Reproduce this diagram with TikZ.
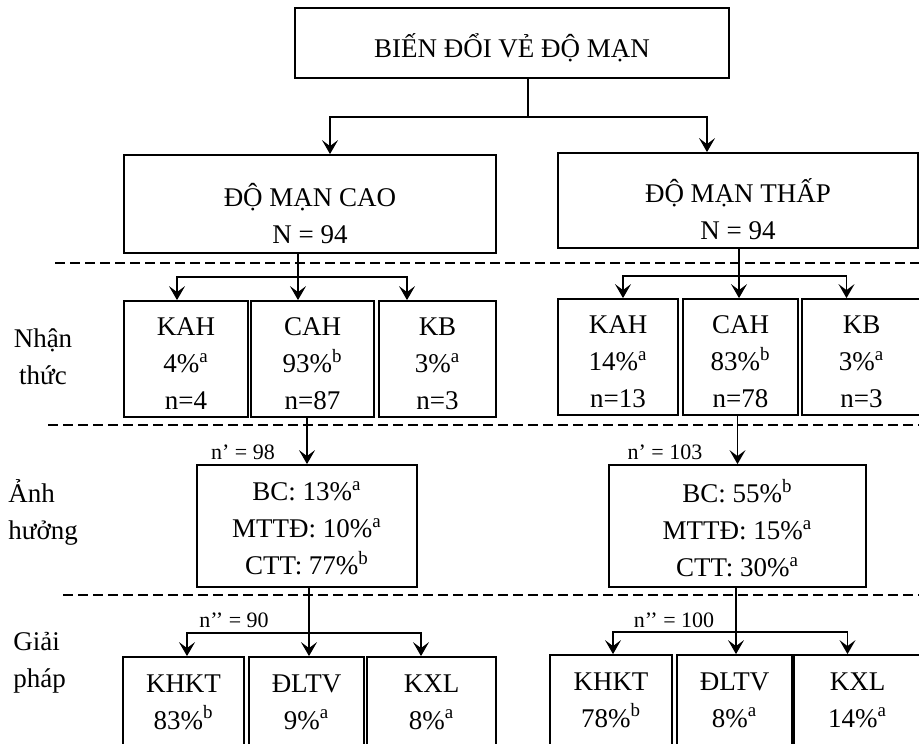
\documentclass[tikz,border=0pt]{standalone}
\usepackage{fontspec}
\setmainfont{Liberation Serif}
\usetikzlibrary{arrows, arrows.meta, fit, positioning}

\begin{document}
\begin{tikzpicture}[x=0.5pt, y=-0.5pt,
  box/.style={draw, line width=0.9pt, inner sep=0pt},
  txt/.style={inner sep=1pt, align=center, font=\fontsize{13.5}{18.5}\selectfont},
  small/.style={inner sep=0pt, font=\fontsize{11}{13}\selectfont},
  link/.style={line width=0.8pt},
  arr/.style={line width=0.8pt, -{Stealth[length=7pt, width=8pt, inset=3pt]}},
  sep/.style={dash pattern=on 5pt off 2.5pt, line width=0.7pt}]
\useasboundingbox (0,0) rectangle (919,743);
\clip (0,0) rectangle (919,743);

\node[box, fit={(295,8) (729,78)}] (bien) {};
\node[txt, yshift=-2.5pt] (bient) at (bien.center) {BIẾN ĐỔI VẺ ĐỘ MẠN};

\node[box, fit={(124,155) (496,253)}] (cao) {};
\node[txt] (caot) at (310,214) {ĐỘ MẠN CAO\\N = 94};
\node[box, fit={(558,153) (918,248)}] (thap) {};
\node[txt] (thapt) at (738,209) {ĐỘ MẠN THẤP\\N = 94};

\coordinate (j0) at (528,117);
\draw[link] (bien.south -| j0) -- (j0);
\draw[arr] (j0) -| ([xshift=10pt]cao.north);
\draw[arr] (j0) -| ([xshift=-15.5pt]thap.north);

\draw[sep] (55,263) -- (919,263);
\draw[sep] (48,425) -- (919,425);
\draw[sep] (63,595) -- (919,595);

\node[txt] (nt) at (43,357) {Nhận\\thức};
\node[txt, anchor=west, align=left] (ah) at (6,512) {Ảnh\\hưởng};
\node[txt, anchor=west, align=left] (gp) at (11,663) {Giải\\pháp};

\node[box, fit={(124,301) (248,417)}] (kah1) {};
\node[box, fit={(251,301) (374,417)}] (cah1) {};
\node[box, fit={(379,301) (496,417)}] (kb1) {};
\node[txt, yshift=-2.5pt] (kah1t) at (kah1.center) {KAH\\4\%\textsuperscript{a}\\n=4};
\node[txt, yshift=-2.5pt] (cah1t) at (cah1.center) {CAH\\93\%\textsuperscript{b}\\n=87};
\node[txt, yshift=-2.5pt] (kb1t) at (kb1.center) {KB\\3\%\textsuperscript{a}\\n=3};
\coordinate (j1) at (298,277);
\draw[link] (cao.south -| j1) -- (j1);
\draw[arr] (j1) -| ([xshift=-4.5pt]kah1.north);
\draw[arr] (j1) -- (cah1.north -| j1);
\draw[arr] (j1) -| ([xshift=-15.25pt]kb1.north);

\node[box, fit={(558,299) (678,415)}] (kah2) {};
\node[box, fit={(683,299) (798,415)}] (cah2) {};
\node[box, fit={(802,299) (921,415)}] (kb2) {};
\node[txt, yshift=-2.5pt] (kah2t) at (kah2.center) {KAH\\14\%\textsuperscript{a}\\n=13};
\node[txt, yshift=-2.5pt] (cah2t) at (cah2.center) {CAH\\83\%\textsuperscript{b}\\n=78};
\node[txt, yshift=-2.5pt] (kb2t) at (kb2.center) {KB\\3\%\textsuperscript{a}\\n=3};
\coordinate (j2) at (739,276);
\draw[link] (thap.south -| j2) -- (j2);
\draw[arr] (j2) -| ([xshift=2.5pt]kah2.north);
\draw[arr] (j2) -- (cah2.north -| j2);
\draw[arr] (j2) -| ([xshift=-7.5pt]kb2.north);

\node[box, fit={(197,465) (417,587)}] (ah1) {};
\node[box, fit={(609,465) (866,587)}] (ah2) {};
\node[txt, yshift=-1pt] (ah1t) at (ah1.center) {BC: 13\%\textsuperscript{a}\\MTTĐ: 10\%\textsuperscript{a}\\CTT: 77\%\textsuperscript{b}};
\node[txt, yshift=-1pt] (ah2t) at (ah2.center) {BC: 55\%\textsuperscript{b}\\MTTĐ: 15\%\textsuperscript{a}\\CTT: 30\%\textsuperscript{a}};
\draw[arr] (cah1.south -| ah1.north) -- (ah1.north);
\draw[arr] (cah2.south -| ah2.north) -- (ah2.north);
\node[small] (np1) at (243,452) {n’ = 98};
\node[small] (np2) at (665,452) {n’ = 103};

\node[box, fit={(123,657) (244,760)}] (kh1) {};
\node[box, fit={(249,657) (364,760)}] (dl1) {};
\node[box, fit={(367,657) (496,760)}] (kx1) {};
\node[txt, below=8pt of kh1.north] (kh1t) {KHKT\\83\%\textsuperscript{b}};
\node[txt, below=8pt of dl1.north] (dl1t) {ĐLTV\\9\%\textsuperscript{a}};
\node[txt, below=8pt of kx1.north] (kx1t) {KXL\\8\%\textsuperscript{a}};
\coordinate (j3) at (309,633);
\draw[link] (ah1.south -| j3) -- (j3);
\draw[arr] (j3) -| ([xshift=1.75pt]kh1.north);
\draw[arr] (j3) -- (dl1.north -| j3);
\draw[arr] (j3) -| ([xshift=-5.25pt]kx1.north);
\node[small] (npp1) at (234,620) {n’’ = 90};

\node[box, fit={(550,655) (672,760)}] (kh2) {};
\node[box, fit={(677,655) (792,760)}] (dl2) {};
\node[box, fit={(794,655) (921,760)}] (kx2) {};
\node[txt, below=8pt of kh2.north] (kh2t) {KHKT\\78\%\textsuperscript{b}};
\node[txt, below=8pt of dl2.north] (dl2t) {ĐLTV\\8\%\textsuperscript{a}};
\node[txt, below=8pt of kx2.north] (kx2t) {KXL\\14\%\textsuperscript{a}};
\coordinate (j4) at (736,632);
\draw[link] (ah2.south -| j4) -- (j4);
\draw[arr] (j4) -| ([xshift=1pt]kh2.north);
\draw[arr] (j4) -- (dl2.north -| j4);
\draw[arr] (j4) -| ([xshift=-5pt]kx2.north);
\node[small] (npp2) at (674,620) {n’’ = 100};
\end{tikzpicture}
\end{document}
